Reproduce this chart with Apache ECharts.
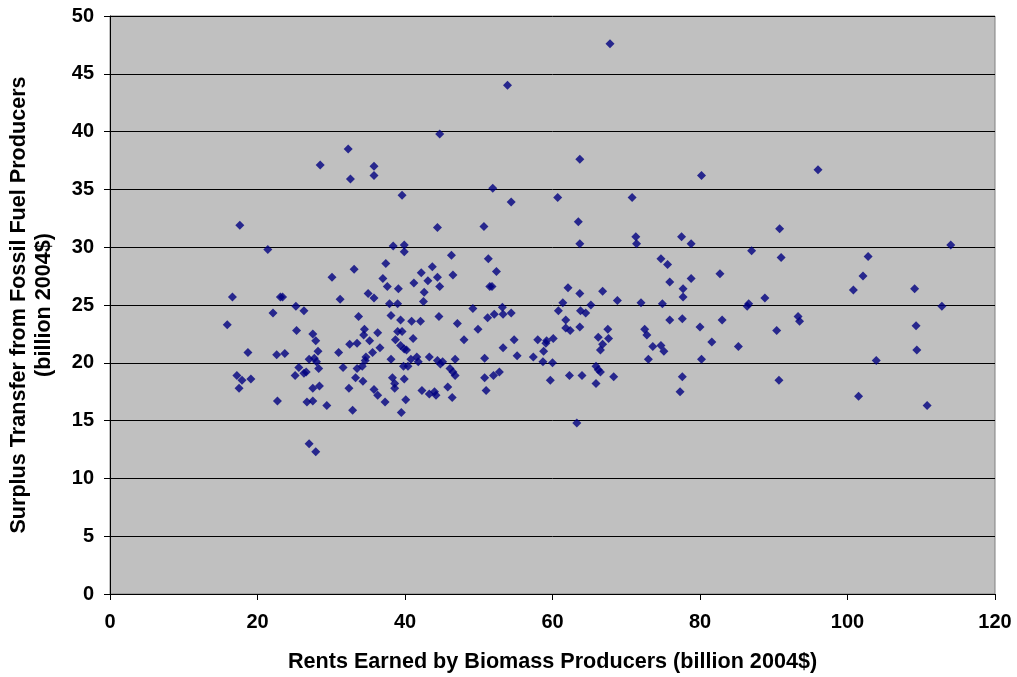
<!DOCTYPE html>
<html><head><meta charset="utf-8">
<script src="https://cdn.jsdelivr.net/npm/echarts@6/dist/echarts.min.js"></script>
<style>html,body{margin:0;padding:0;background:#fff}#c{width:1017px;height:677px}</style>
</head><body><div id="c"></div>
<script>
var xTitle = 'Rents Earned by Biomass Producers (billion 2004$)';
var yTitle = 'Surplus Transfer from Fossil Fuel Producers\n(billion 2004$)';
var rentsX = [
32.3,28.5,32.6,17.6,21.4,33.1,30.1,16.6,23.1,23.4,31.2,22.1,25.2,26.3,33.7,15.9,25.3,27.5,27.9,32.5,33.5,18.7,22.6,23.7,28.2,31.0,27.0,27.7,28.0,28.3,25.6,26.6,26.3,25.1,31.6,33.5,33.3,17.2,17.9,19.1,17.5,27.5,28.4,32.4,22.7,26.7,27.5,29.4,32.9,27.0,27.9,
44.7,35.8,35.8,51.9,39.6,44.4,50.7,38.4,39.9,39.9,46.3,51.3,52.4,37.4,43.7,42.2,44.4,46.5,37.0,43.1,41.2,37.6,39.1,44.7,51.5,51.8,42.6,35.0,35.8,42.5,37.9,39.0,53.2,53.3,49.2,51.2,52.1,44.6,38.1,39.4,40.9,42.1,47.1,49.9,34.5,34.4,35.2,36.3,39.0,39.6,38.7,41.1,48.0,39.4,39.9,40.2,36.6,35.6,53.3,34.7,34.6,38.1,40.8,41.6,41.8,43.3,44.4,44.8,45.1,46.8,50.8,39.8,40.4,46.1,46.5,46.8,34.2,34.3,38.3,38.6,38.6,39.9,50.8,52.0,52.8,35.8,36.3,40.1,37.3,42.3,43.3,44.0,44.2,45.8,46.4,51.0,39.5,
67.8,53.9,63.7,54.4,60.7,70.8,63.5,63.7,71.3,71.4,62.1,63.7,66.8,68.8,72.0,61.4,60.8,63.8,64.5,65.2,54.4,61.8,61.8,62.4,63.7,67.5,67.6,66.2,66.8,66.5,72.5,72.8,54.8,58.0,59.2,59.1,60.1,58.8,55.2,57.4,58.7,60.0,73.0,59.7,62.3,64.0,65.9,66.2,66.5,65.9,68.3,63.3,
80.2,77.5,78.8,90.8,87.0,91.0,74.7,75.6,75.9,78.8,82.7,77.7,77.7,74.9,86.6,86.4,88.8,75.9,77.6,83.0,93.3,93.5,80.0,90.4,73.6,74.7,75.1,81.6,85.2,80.2,77.6,77.3,90.7,
96.0,114.0,102.8,102.1,100.8,109.1,112.8,109.3,109.4,103.9,101.5,110.8
];
var surplusY = [
38.5,37.1,35.9,31.9,29.8,28.1,27.4,25.7,25.7,25.7,25.5,24.3,24.9,24.5,24.0,23.3,22.8,22.5,21.9,21.6,21.7,20.9,20.7,20.8,21.0,20.9,20.3,20.4,20.1,19.5,19.6,19.2,19.1,18.9,19.6,19.5,18.7,18.9,18.5,18.6,17.8,17.8,18.0,17.8,16.7,16.6,16.7,16.3,15.9,13.0,12.3,
39.8,37.0,36.2,35.1,34.5,31.7,31.8,30.1,30.2,29.6,29.3,29.0,27.9,28.6,28.3,27.8,27.4,27.6,27.3,27.1,26.9,26.6,26.4,26.6,26.6,26.6,26.1,26.0,25.6,25.3,25.1,25.1,24.8,24.2,24.7,23.9,24.2,24.0,24.1,23.7,23.6,23.6,23.4,22.9,22.9,22.4,21.9,22.6,22.7,22.7,22.0,22.1,22.0,21.5,21.2,21.1,21.3,20.9,21.3,20.5,20.2,20.3,20.3,20.5,20.1,20.5,20.2,19.9,20.1,20.3,20.4,19.7,19.7,19.5,19.2,18.9,19.7,18.4,18.7,18.2,17.8,18.6,18.7,18.9,19.2,17.7,17.2,16.8,16.6,17.6,17.3,17.5,17.2,17.9,17.0,17.6,15.7,
47.6,44.0,37.6,33.9,34.3,34.3,32.2,30.3,30.9,30.3,26.5,26.0,26.2,25.4,25.2,25.2,24.5,24.5,24.3,25.0,24.3,23.7,23.0,22.8,23.1,22.9,22.1,22.2,21.6,21.1,22.9,22.4,22.0,22.0,21.9,21.7,22.1,21.0,20.6,20.5,20.1,20.0,20.3,18.5,18.9,18.9,19.7,19.4,19.2,18.2,18.8,14.8,
36.2,30.9,30.3,31.6,29.7,29.1,29.0,28.5,27.0,27.3,27.7,26.4,25.7,25.1,25.1,24.9,25.6,23.7,23.8,23.7,24.0,23.6,23.1,22.8,21.4,21.5,21.0,21.8,21.4,20.3,18.8,17.5,18.5,
36.7,30.2,29.2,27.5,26.3,26.4,24.9,23.2,21.1,20.2,17.1,16.3
];
var xTicks = [0, 20, 40, 60, 80, 100, 120];
var yTicks = [0, 5, 10, 15, 20, 25, 30, 35, 40, 45, 50];

var points = rentsX.map(function (x, i) { return [x, surplusY[i]]; });
var FONT = '"Liberation Sans", Arial, sans-serif';
var chart = echarts.init(document.getElementById('c'), null, {renderer: 'canvas'});
chart.setOption({
  animation: false,
  backgroundColor: '#ffffff',
  grid: {left: 110, right: 22, top: 16, bottom: 83, show: true, containLabel: false,
    outerBoundsMode: 'none',
    backgroundColor: '#c0c0c0', borderColor: '#808080', borderWidth: 1},
  xAxis: {
    type: 'value', min: xTicks[0], max: xTicks[xTicks.length - 1], interval: 20,
    name: xTitle, nameLocation: 'middle', nameGap: 57,
    nameTextStyle: {fontFamily: FONT, fontWeight: 'bold', fontSize: 21.6, color: '#000'},
    axisLine: {show: true, lineStyle: {color: '#000', width: 1}},
    axisTick: {show: true, length: 6, lineStyle: {color: '#000'}},
    axisLabel: {margin: 18, fontFamily: FONT, fontWeight: 'bold', fontSize: 20, color: '#000'},
    splitLine: {show: false}
  },
  yAxis: {
    type: 'value', min: yTicks[0], max: yTicks[yTicks.length - 1], interval: 5,
    name: yTitle, nameLocation: 'middle', nameGap: 53,
    nameTextStyle: {fontFamily: FONT, fontWeight: 'bold', fontSize: 21.6, color: '#000', lineHeight: 25},
    axisLine: {show: true, lineStyle: {color: '#000', width: 1}},
    axisTick: {show: true, length: 6, lineStyle: {color: '#000'}},
    axisLabel: {margin: 16, fontFamily: FONT, fontWeight: 'bold', fontSize: 20, color: '#000'},
    splitLine: {show: true, lineStyle: {color: '#000', width: 1}}
  },
  series: [{
    type: 'scatter', data: points, symbol: 'diamond', symbolSize: 9,
    itemStyle: {color: '#000080'}
  }]
});
</script></body></html>
